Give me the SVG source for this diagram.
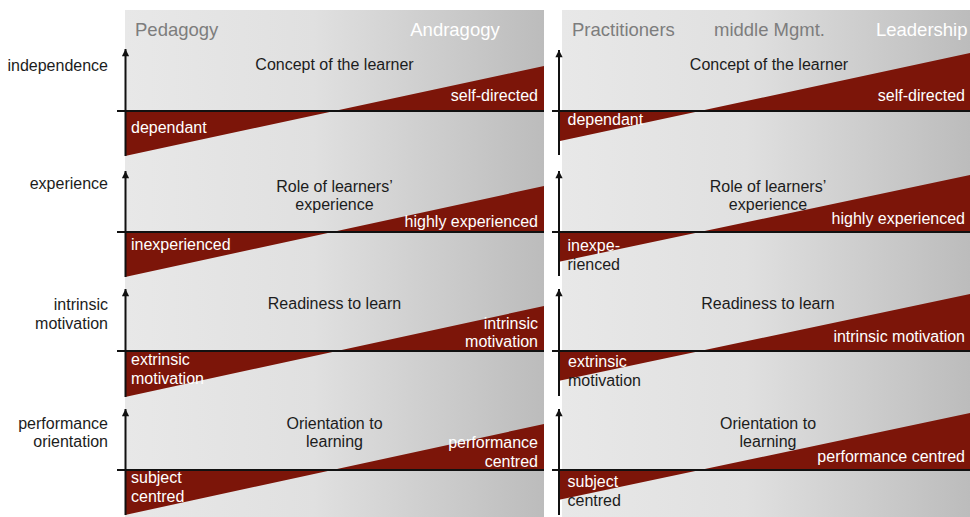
<svg xmlns="http://www.w3.org/2000/svg" width="970" height="517" viewBox="0 0 970 517">
<style>
text{font-family:"Liberation Sans",Arial,sans-serif;font-size:16px;fill:#1c1c1c}
.hd{font-size:18.5px;fill:#7d7d7d}
.hw{font-size:18.5px;fill:#ffffff}
.w{fill:#ffffff}
.m{text-anchor:middle}
.e{text-anchor:end}
.tri{fill:#7c1509}
.base{stroke:#111;stroke-width:2;fill:none}
.ax{stroke:#111;stroke-width:2;fill:none;marker-end:url(#ah)}
</style>
<defs>
<linearGradient id="bg" x1="0" y1="0" x2="1" y2="0">
<stop offset="0" stop-color="#e8e8e8"/>
<stop offset="0.45" stop-color="#e0e0e0"/>
<stop offset="1" stop-color="#bcbcbc"/>
</linearGradient>
<marker id="ah" viewBox="0 0 10 10" refX="10" refY="5" markerWidth="4" markerHeight="3.6" orient="auto" markerUnits="strokeWidth">
<path d="M0,0 L10,5 L0,10 Z" fill="#111"/>
</marker>
</defs>
<rect width="970" height="517" fill="#ffffff"/>
<g id="panel-left">
<rect x="125" y="10" width="419" height="507" fill="url(#bg)"/>
<text class="hd" x="135" y="36">Pedagogy</text>
<text class="hw m" x="455" y="36">Andragogy</text>
</g>
<g id="panel-right">
<rect x="562" y="10" width="408" height="507" fill="url(#bg)"/>
<text class="hd" x="572" y="36">Practitioners</text>
<text class="hd m" x="769.5" y="36">middle Mgmt.</text>
<text class="hw e" x="967.5" y="36">Leadership</text>
</g>
<g id="row-labels">
<text class="e" x="108" y="71">independence</text>
<text class="e" x="108" y="188.5">experience</text>
<text class="e" x="108" y="310">intrinsic</text>
<text class="e" x="108" y="328.5">motivation</text>
<text class="e" x="108" y="428.5">performance</text>
<text class="e" x="108" y="446.5">orientation</text>
</g>
<g id="wedges">
<path class="tri" d="M125,111 L125,156 L544,66 L544,111 Z"/>
<path class="tri" d="M560,111 L560,141 L970,53 L970,111 Z"/>
<path class="tri" d="M125,232 L125,277 L544,186 L544,232 Z"/>
<path class="tri" d="M558,232 L558,262 L970,175 L970,232 Z"/>
<path class="tri" d="M125,351 L125,397 L544,306 L544,351 Z"/>
<path class="tri" d="M558,351 L558,381 L970,294 L970,351 Z"/>
<path class="tri" d="M125,470 L125,515 L544,424 L544,470 Z"/>
<path class="tri" d="M558,470 L558,500 L970,413 L970,470 Z"/>
</g>
<g id="connectors">
<line class="base" x1="117" y1="111" x2="544" y2="111"/>
<line class="base" x1="552" y1="111" x2="970" y2="111"/>
<line class="base" x1="117" y1="232" x2="544" y2="232"/>
<line class="base" x1="552" y1="232" x2="970" y2="232"/>
<line class="base" x1="117" y1="351" x2="544" y2="351"/>
<line class="base" x1="552" y1="351" x2="970" y2="351"/>
<line class="base" x1="117" y1="470" x2="544" y2="470"/>
<line class="base" x1="552" y1="470" x2="970" y2="470"/>
<line class="ax" x1="125.5" y1="156" x2="125.5" y2="49"/>
<line class="ax" x1="559" y1="155" x2="559" y2="50"/>
<line class="ax" x1="125.5" y1="277" x2="125.5" y2="171"/>
<line class="ax" x1="559" y1="276" x2="559" y2="171"/>
<line class="ax" x1="125.5" y1="397" x2="125.5" y2="289"/>
<line class="ax" x1="559" y1="396" x2="559" y2="289"/>
<line class="ax" x1="125.5" y1="515" x2="125.5" y2="409"/>
<line class="ax" x1="559" y1="515" x2="559" y2="409"/>
</g>
<g id="row1">
<text class="m" x="334.5" y="70">Concept of the learner</text>
<text class="w e" x="538" y="101">self-directed</text>
<text class="w" x="131" y="133">dependant</text>
<text class="m" x="769" y="70">Concept of the learner</text>
<text class="w e" x="965" y="101">self-directed</text>
<text class="w" x="567.5" y="125">dependant</text>
</g>
<g id="row2">
<text class="m" x="334.5" y="191.5">Role of learners’</text>
<text class="m" x="334.5" y="209.5">experience</text>
<text class="w e" x="538" y="226.5">highly experienced</text>
<text class="w" x="131" y="249.5">inexperienced</text>
<text class="m" x="768" y="191.5">Role of learners’</text>
<text class="m" x="768" y="209.5">experience</text>
<text class="w e" x="965" y="223.5">highly experienced</text>
<text class="w" x="567.5" y="250.5">inexpe-</text>
<text x="567.5" y="269.5">rienced</text>
</g>
<g id="row3">
<text class="m" x="334.5" y="309">Readiness to learn</text>
<text class="w e" x="538" y="329">intrinsic</text>
<text class="w e" x="538" y="347">motivation</text>
<text class="w" x="131" y="365">extrinsic</text>
<text class="w" x="131" y="383.5">motivation</text>
<text class="m" x="768" y="309">Readiness to learn</text>
<text class="w e" x="965" y="341.5">intrinsic motivation</text>
<text class="w" x="568" y="367">extrinsic</text>
<text x="568" y="386">motivation</text>
</g>
<g id="row4">
<text class="m" x="334.5" y="429">Orientation to</text>
<text class="m" x="334.5" y="447">learning</text>
<text class="w e" x="538" y="448">performance</text>
<text class="w e" x="538" y="466.5">centred</text>
<text class="w" x="131" y="483">subject</text>
<text class="w" x="131" y="501.5">centred</text>
<text class="m" x="768" y="429">Orientation to</text>
<text class="m" x="768" y="447">learning</text>
<text class="w e" x="965" y="461.5">performance centred</text>
<text class="w" x="567.5" y="487">subject</text>
<text x="567.5" y="506">centred</text>
</g>
</svg>
